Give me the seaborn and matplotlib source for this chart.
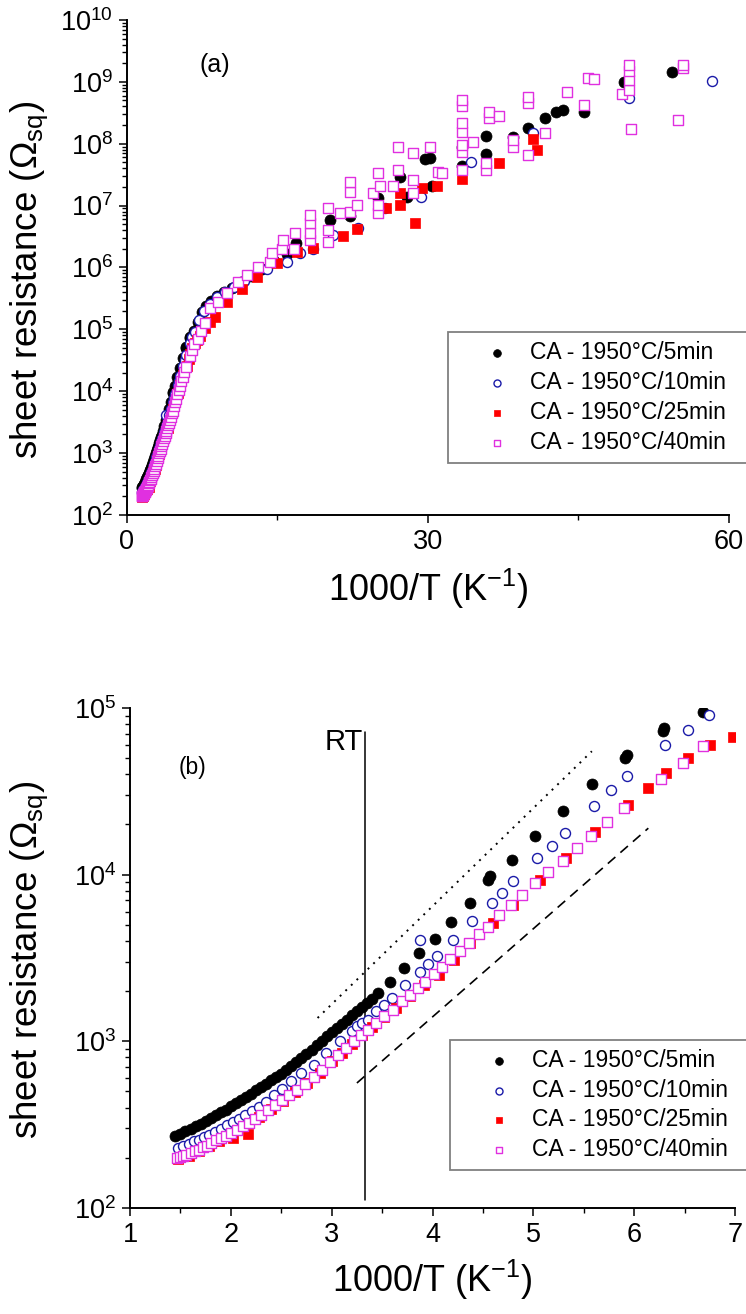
import numpy as np
import pandas as pd
import matplotlib
matplotlib.use("Agg")
import matplotlib.pyplot as plt
import seaborn as sns
from matplotlib.ticker import LogLocator, FixedLocator, MultipleLocator, NullFormatter

# ---------------- data ----------------
labels = ["CA - 1950°C/5min", "CA - 1950°C/10min", "CA - 1950°C/25min", "CA - 1950°C/40min"]

x_5min = [1.45, 1.50, 1.55, 1.60, 1.65, 1.70, 1.75, 1.80, 1.85, 1.90, 1.95, 2.00, 2.05, 2.10, 2.15,
          2.20, 2.25, 2.30, 2.35, 2.40, 2.45, 2.50, 2.55, 2.60, 2.65, 2.70, 2.75, 2.80, 2.85, 2.90,
          2.95, 3.00, 3.05, 3.10, 3.15, 3.20, 3.25, 3.30, 3.35, 3.40, 3.46, 3.58, 3.72, 3.87, 4.02,
          4.18, 4.37, 4.55, 4.57, 4.79, 5.02, 5.29, 5.58, 5.91, 5.93, 6.29, 6.30, 6.68,
          7.05, 7.45, 7.9, 8.4, 9.0, 9.7, 10.5, 11.4, 12.4, 13.5, 14.7, 15.9, 16.8, 20.2, 22.2,
          25.0, 27.2, 27.9, 29.7, 30.2, 30.4, 33.4, 33.4, 35.8, 35.8, 38.5, 40.0, 41.7, 42.8,
          43.5, 45.5, 49.5, 54.3]
y_5min = [269, 279, 288, 299, 309, 320, 331, 347, 359, 376, 389, 407, 427, 442, 462,
          484, 507, 531, 556, 582, 610, 638, 676, 708, 750, 794, 841, 891, 944, 1000,
          1072, 1135, 1202, 1274, 1349, 1429, 1514, 1603, 1698, 1799, 1950, 2270, 2760, 3390, 4100,
          5200, 6800, 9300, 9800, 12300, 17000, 24000, 35000, 50000, 52000, 73000, 76000, 94000,
          1.3e5, 1.9e5, 2.4e5, 2.9e5, 3.4e5, 4.0e5, 4.7e5, 5.8e5, 7.2e5, 9.3e5, 1.26e6, 1.66e6, 2.5e6, 5.9e6, 6.8e6,
          1.32e7, 2.9e7, 1.38e7, 5.6e7, 5.8e7, 2.1e7, 8.9e7, 4.3e7, 1.35e8, 6.9e7, 1.29e8, 1.78e8, 2.6e8, 3.2e8,
          3.5e8, 3.2e8, 1.0e9, 1.45e9]

x_10min = [1.48, 1.53, 1.58, 1.63, 1.68, 1.73, 1.78, 1.84, 1.90, 1.96, 2.02, 2.08, 2.14, 2.21, 2.28,
           2.35, 2.43, 2.51, 2.60, 2.70, 2.82, 2.94, 3.08, 3.20, 3.25, 3.30, 3.36, 3.44, 3.52, 3.60,
           3.73, 3.88, 3.88, 3.96, 4.04, 4.20, 4.39, 4.59, 4.69, 4.80, 5.04, 5.18, 5.31, 5.60, 5.77,
           5.93, 6.31, 6.53, 6.74,
           7.2, 7.7, 8.3, 9.0, 9.8, 10.7, 11.7, 12.8, 14.0, 15.9, 17.2, 18.5, 20.5, 23.0, 25.7,
           29.3, 34.3, 40.5, 50.0, 58.3]
y_10min = [229, 237, 243, 251, 257, 266, 275, 285, 299, 313, 327, 343, 359, 380, 403,
           432, 479, 519, 575, 646, 724, 851, 1000, 1148, 1230, 1288, 1350, 1514, 1660, 1820,
           2180, 2620, 4050, 2900, 3230, 4050, 5250, 6800, 7800, 9100, 12600, 14800, 17800, 25700, 32000,
           39000, 60000, 74000, 91000,
           1.4e5, 2.0e5, 2.6e5, 3.3e5, 4.0e5, 4.8e5, 6.0e5, 7.6e5, 9.5e5, 1.23e6, 1.74e6, 2.0e6, 3.4e6, 4.4e6, 9.1e6,
           1.38e7, 5.1e7, 1.48e8, 5.5e8, 1.02e9]

x_25min = [1.48, 1.58, 1.68, 1.78, 1.88, 2.02, 2.17, 2.28, 2.40, 2.52, 2.64, 2.76, 2.88, 3.00, 3.10,
           3.20, 3.30, 3.40, 3.52, 3.64, 3.78, 3.92, 4.06, 4.21, 4.37, 4.60, 4.80, 5.07, 5.32, 5.61,
           5.94, 6.14, 6.32, 6.53, 6.75, 6.98,
           7.3, 7.8, 8.3, 8.8, 10.0, 11.5, 13.0, 15.0, 16.9, 18.5, 21.5, 22.9, 25.8, 27.2, 27.2,
           28.7, 29.4, 30.9, 33.4, 37.1, 40.5, 40.9]
y_25min = [198, 205, 219, 236, 253, 263, 278, 350, 390, 437, 495, 560, 648, 760, 855,
           970, 1090, 1220, 1390, 1590, 1860, 2180, 2500, 3080, 3900, 5150, 6600, 9300, 12600, 18000,
           26000, 33000, 40500, 50000, 60000, 67000,
           7.9e4, 1.05e5, 1.32e5, 1.6e5, 2.75e5, 4.5e5, 7.1e5, 1.17e6, 1.78e6, 2.1e6, 3.2e6, 4.2e6, 9.1e6, 1.02e7, 1.62e7,
           5.2e6, 1.95e7, 2.1e7, 2.7e7, 4.9e7, 1.2e8, 7.8e7]

x_40min = [1.47, 1.50, 1.53, 1.56, 1.60, 1.64, 1.68, 1.72, 1.76, 1.80, 1.85, 1.90, 1.95, 2.00, 2.06,
           2.12, 2.18, 2.24, 2.30, 2.37, 2.44, 2.51, 2.58, 2.66, 2.74, 2.82, 2.90, 2.98, 3.06, 3.14,
           3.22, 3.29, 3.36, 3.44, 3.52, 3.61, 3.70, 3.78, 3.86, 3.93, 4.01, 4.09, 4.17, 4.27, 4.36,
           4.46, 4.55, 4.66, 4.78, 4.89, 5.02, 5.15, 5.29, 5.43, 5.57, 5.73, 5.90, 6.27, 6.48, 6.68,
           7.1, 7.4, 7.8, 8.3, 9.1, 10.0, 11.1, 12.0, 13.1, 14.3, 14.5, 15.5, 15.6, 16.6, 16.7,
           18.2, 18.2, 18.2, 18.2, 20.0, 20.0, 20.0, 21.2, 22.2, 22.2, 22.2, 22.9, 24.5, 25.0, 25.0,
           25.0, 25.2, 26.5, 27.0, 27.0, 28.5, 28.5, 28.5, 30.2, 31.0, 31.4, 33.4, 33.4, 33.4, 33.4,
           33.4, 33.4, 33.4, 34.5, 35.8, 35.8, 36.1, 36.1, 37.1, 38.5, 38.5, 40.0, 40.0, 40.0, 41.7,
           43.9, 45.5, 45.9, 46.5, 49.3, 50.0, 50.0, 50.0, 50.0, 50.2, 54.9, 55.4, 55.4]
y_40min = [200, 202, 204, 209, 214, 219, 224, 232, 237, 245, 254, 263, 272, 282, 295,
           309, 324, 343, 363, 385, 412, 442, 473, 513, 556, 610, 676, 750, 832, 912,
           1000, 1096, 1175, 1288, 1413, 1549, 1738, 1905, 2090, 2270, 2530, 2800, 3120, 3480, 3870,
           4400, 4870, 5700, 6600, 7600, 8900, 10400, 12100, 14500, 17000, 20700, 25000, 37500, 46500, 59000,
           7.1e4, 9.5e4, 1.26e5, 2.2e5, 2.8e5, 3.9e5, 5.9e5, 7.6e5, 1.02e6, 1.23e6, 1.74e6, 2.0e6, 2.8e6, 2.0e6, 3.6e6,
           2.8e6, 3.6e6, 5.2e6, 7.1e6, 2.6e6, 4.1e6, 9.1e6, 7.6e6, 7.9e6, 1.66e7, 2.4e7, 1.02e7, 1.62e7, 7.6e6, 1.02e7,
           3.4e7, 2.1e7, 2.1e7, 3.8e7, 8.9e7, 1.58e7, 2.6e7, 7.1e7, 8.9e7, 3.5e7, 3.4e7, 3.8e7, 7.4e7, 9.5e7, 1.55e8,
           2.2e8, 4.0e8, 5.1e8, 1.07e8, 3.8e7, 4.9e7, 2.6e8, 3.2e8, 2.8e8, 8.9e7, 1.15e8, 6.6e7, 4.6e8, 5.6e8, 1.48e8,
           6.9e8, 4.3e8, 1.15e9, 1.12e9, 6.3e8, 7.4e8, 1.07e9, 1.48e9, 1.86e9, 1.74e8, 2.4e8, 1.66e9, 1.86e9]

# guide lines in panel (b)
rt_x = [3.33, 3.33]
rt_y = [112, 7.2e4]
dotted_x = [2.86, 5.58]
dotted_y = [1380, 55000]
dashed_x = [3.25, 6.14]
dashed_y = [562, 19000]

# ---------------- style ----------------
sns.set_style("ticks")
plt.rcParams["font.family"] = ["Liberation Sans", "DejaVu Sans"]
plt.rcParams["mathtext.fontset"] = "custom"
plt.rcParams["mathtext.rm"] = "Liberation Sans"
plt.rcParams["mathtext.it"] = "Liberation Sans:italic"
plt.rcParams["mathtext.default"] = "regular"
for key in ("text.color", "axes.labelcolor", "xtick.color", "ytick.color", "axes.edgecolor"):
    plt.rcParams[key] = "black"

series = [
    (x_5min, y_5min, dict(marker="o", s=63, color="black", edgecolor="black", linewidth=0.5)),
    (x_10min, y_10min, dict(marker="o", s=52, facecolor="white", edgecolor="#1a1aa8", linewidth=1.0)),
    (x_25min, y_25min, dict(marker="s", s=47, color="#ff0000", edgecolor="#ff0000", linewidth=0.5)),
    (x_40min, y_40min, dict(marker="s", s=47, facecolor="white", edgecolor="#e030e0", linewidth=1.0)),
]

fig = plt.figure(figsize=(7.46, 13.14), dpi=100)
ax_a = fig.add_axes([0.1702, 0.6081, 0.8070, 0.3767])
ax_b = fig.add_axes([0.1743, 0.0807, 0.8110, 0.3805])

for ax in (ax_a, ax_b):
    for (xs, ys, kw), lab in zip(series, labels):
        df = pd.DataFrame({"x": xs, "y": ys})
        sns.scatterplot(data=df, x="x", y="y", ax=ax, label=lab, zorder=3, **kw)
    ax.set_yscale("log")
    sns.despine(ax=ax)
    for sp in ("left", "bottom"):
        ax.spines[sp].set_linewidth(1.4)
        ax.spines[sp].set_color("black")
    ax.tick_params(axis="both", which="major", direction="out", length=6, width=1.1,
                   labelsize=19.5, pad=4, color="black", labelcolor="black")
    ax.tick_params(axis="both", which="minor", direction="out", length=3.6, width=1.0, color="black")
    ax.yaxis.set_major_locator(LogLocator(base=10, numticks=20))
    ax.yaxis.set_minor_locator(LogLocator(base=10, subs=np.arange(2, 10), numticks=100))
    ax.yaxis.set_minor_formatter(NullFormatter())

# panel (a)
ax_a.set_xlim(0, 60)
ax_a.set_ylim(1e2, 1e10)
ax_a.xaxis.set_major_locator(FixedLocator([0, 30, 60]))
ax_a.xaxis.set_minor_locator(FixedLocator([15, 45]))
ax_a.text(8.8, 1.9e9, "(a)", fontsize=18, ha="center", va="center")

# panel (b)
ax_b.set_xlim(1, 7)
ax_b.set_ylim(1e2, 1e5)
ax_b.xaxis.set_major_locator(MultipleLocator(1))
ax_b.xaxis.set_minor_locator(MultipleLocator(0.5))
ax_b.plot(rt_x, rt_y, color="black", lw=1.1, zorder=2)
ax_b.plot(dotted_x, dotted_y, color="black", lw=1.4, ls=(0, (1, 3)), zorder=2)
ax_b.plot(dashed_x, dashed_y, color="black", lw=1.2, ls=(0, (6, 4)), zorder=2)
ax_b.text(3.31, 7.6e4, "RT", fontsize=21, ha="right", va="top")
ax_b.text(1.62, 4.4e4, "(b)", fontsize=16.5, ha="center", va="center")

for ax, lx, ly in ((ax_a, -0.128, 0.475), (ax_b, -0.132, 0.496)):
    ax.set_ylabel("sheet resistance ($\\Omega_{sq}$)", fontsize=26.5)
    ax.yaxis.set_label_coords(lx, ly)
    ax.set_xlabel("1000/T (K$^{-1}$)", fontsize=26)

ax_a.xaxis.set_label_coords(0.5, -0.105)
ax_b.xaxis.set_label_coords(0.5, -0.10)

# legends (box runs past the right edge of the figure as in the reference)
for ax, anchor in ((ax_a, (0.6005, 0.6492, 0.42, 0.0981)), (ax_b, (0.6032, 0.1108, 0.42, 0.0981))):
    leg = ax.legend(loc="upper left", bbox_to_anchor=anchor, bbox_transform=fig.transFigure,
                    mode="expand", borderaxespad=0, fontsize=16.5, frameon=True, fancybox=False,
                    markerscale=0.7, handlelength=3.5, handletextpad=-0.3, borderpad=0.4,
                    labelspacing=0.3, framealpha=1)
    leg.get_frame().set_edgecolor("#808080")
    leg.get_frame().set_linewidth(1.3)
    for t in leg.get_texts():
        t.set_color("black")

fig.savefig("out.png", dpi=100)
